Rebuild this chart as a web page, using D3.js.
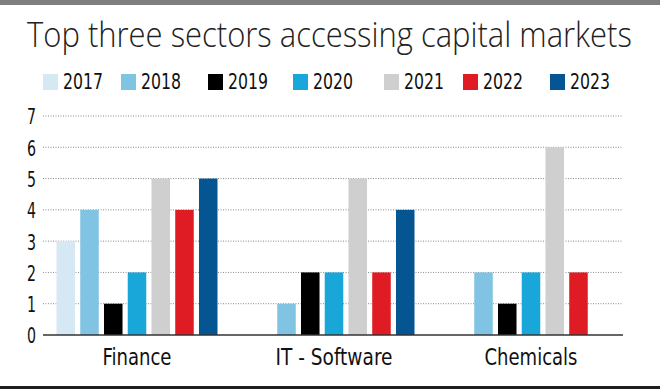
<!DOCTYPE html>
<html><head><meta charset="utf-8">
<script src="https://cdn.jsdelivr.net/npm/d3@7"></script>
<style>
html,body{margin:0;padding:0;background:#fff;}
svg{display:block;}
</style></head>
<body>
<script>
const categories = ["Finance", "IT - Software", "Chemicals"];
const years = ["2017","2018","2019","2020","2021","2022","2023"];
const v2017 = [3, 0, 0];
const v2018 = [4, 1, 2];
const v2019 = [1, 2, 1];
const v2020 = [2, 2, 2];
const v2021 = [5, 5, 6];
const v2022 = [4, 2, 2];
const v2023 = [5, 4, 0];
const seriesValues = [v2017, v2018, v2019, v2020, v2021, v2022, v2023];
const colors = ["#d5e8f4", "#80c3e3", "#000000", "#19a6d8", "#cfcfcf", "#df1b24", "#065593"];
const yTicks = [0,1,2,3,4,5,6,7];
const title = "Top three sectors accessing capital markets";
const catWidths = [69, 117, 93];

const W = 660, H = 389;
const font = "'DejaVu Sans Condensed','Liberation Sans Narrow','DejaVu Sans',sans-serif";
const svg = d3.select("body").append("svg").attr("width", W).attr("height", H);
svg.append("rect").attr("width", W).attr("height", H).attr("fill", "#fff");
svg.append("rect").attr("x",0).attr("y",0).attr("width",W).attr("height",5).attr("fill","#7f7f7f");
svg.append("rect").attr("x",0).attr("y",386).attr("width",W).attr("height",3).attr("fill","#1e1e1e");

const tg = svg.append("g");
const tt = tg.append("text").attr("x", 0).attr("y", 0)
  .attr("font-family", "'Open Sans','Lato',sans-serif").attr("font-size", 34).attr("font-weight", 300)
  .attr("fill", "#222").text(title);
const natural = tt.node().getComputedTextLength();
tg.attr("transform", `translate(27,47) scale(${605 / natural},1)`);

// legend
const legX = [43, 121, 208, 293, 384, 463, 550];
const leg = svg.append("g");
years.forEach((yr, i) => {
  leg.append("rect").attr("x", legX[i]).attr("y", 74).attr("width", 15).attr("height", 16).attr("fill", colors[i]);
  leg.append("text").attr("x", legX[i] + 20).attr("y", 89)
    .attr("font-family", font).attr("font-size", 21).attr("font-weight", 500).attr("fill", "#111")
    .attr("textLength", 40).attr("lengthAdjust", "spacingAndGlyphs")
    .text(yr);
});

const y = d3.scaleLinear().domain([0, 7]).range([335, 116]);
const x0 = d3.scaleBand().domain(categories).range([38.5, 629.5]).paddingInner(0).paddingOuter(0);
const x1 = d3.scaleBand().domain(years).range([18, 179]).paddingInner(0.22).paddingOuter(0);

// gridlines
const grid = svg.append("g");
yTicks.filter(t => t > 0).forEach(t => {
  grid.append("line").attr("x1", 43).attr("x2", 623).attr("y1", y(t)).attr("y2", y(t))
    .attr("stroke", "#8a8a8a").attr("stroke-width", 1).attr("stroke-dasharray", "1,1.5");
});

// y axis labels via axis
const yAxis = d3.axisLeft(y).tickValues(yTicks).tickFormat(d3.format("d")).tickSize(0).tickPadding(0);
const ya = svg.append("g").attr("transform", "translate(36,0)").call(yAxis);
ya.select(".domain").remove();
ya.selectAll("text").attr("font-family", font).attr("font-size", 22).attr("fill", "#111").attr("dy", "0.36em")
  .attr("textLength", 9).attr("lengthAdjust", "spacingAndGlyphs");

// bars
categories.forEach((c, ci) => {
  const g = svg.append("g").attr("transform", `translate(${x0(c)},0)`);
  years.forEach((yr, si) => {
    const v = seriesValues[si][ci];
    if (v > 0) {
      g.append("rect").attr("x", x1(yr)).attr("width", x1.bandwidth())
        .attr("y", y(v)).attr("height", y(0) - y(v)).attr("fill", colors[si]);
    }
  });
});

// x axis
const xAxis = d3.axisBottom(x0).tickSize(0).tickPadding(14);
const xa = svg.append("g").attr("transform", `translate(0,335)`).call(xAxis);
xa.select(".domain").remove();
xa.selectAll("text").attr("font-family", font).attr("font-size", 23).attr("fill", "#111")
  .attr("textLength", (d, i) => catWidths[i]).attr("lengthAdjust", "spacingAndGlyphs");
svg.append("line").attr("x1", 43).attr("x2", 623).attr("y1", 335).attr("y2", 335)
  .attr("stroke", "#333").attr("stroke-width", 1.5);
</script>
</body></html>
